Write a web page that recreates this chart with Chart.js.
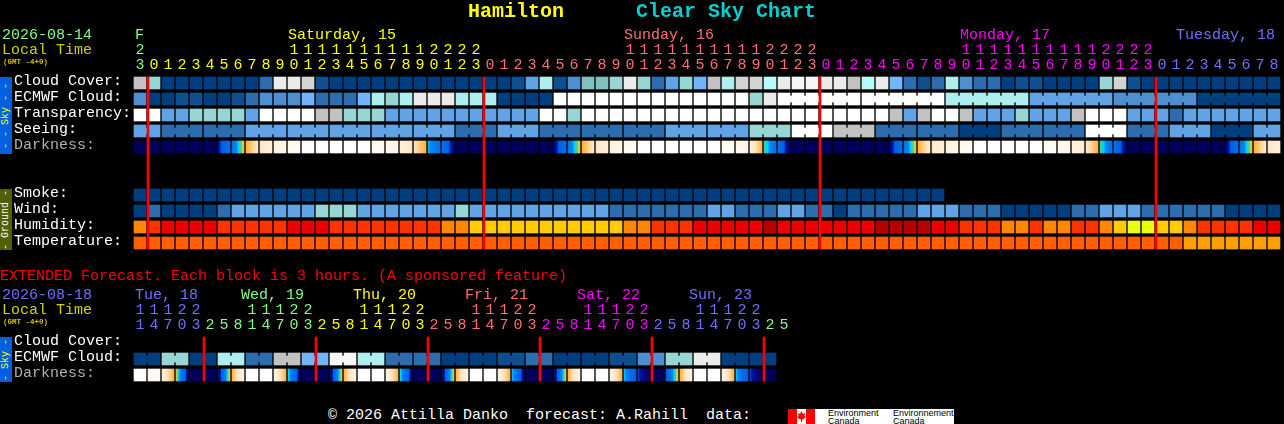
<!DOCTYPE html>
<html>
<head>
<meta charset="utf-8">
<title>Hamilton Clear Sky Chart</title>
<script src="https://cdn.jsdelivr.net/npm/chart.js@4"></script>
<style>
  html, body { margin: 0; background: #000; width: 1284px; height: 424px; overflow: hidden; }
  canvas { position: absolute; left: 0; }
  #main { top: 0; }
  #extended { top: 262px; }
  .t { position: absolute; font: 15px/15px "Liberation Mono", monospace; white-space: pre; }
  .title { font: bold 20px/22px "Liberation Mono", monospace; letter-spacing: 0; }
  .gmt { font: bold 7.5px/8px "Liberation Mono", monospace; color: #d0c000; }
  .side { position: absolute; left: 0; width: 12px; writing-mode: vertical-rl; transform: rotate(180deg);
          text-align: center; font: 10px/12px "Liberation Mono", monospace; white-space: pre; }
  #logo { position: absolute; left: 788px; top: 409px; width: 166px; height: 15px; background: #fff; overflow: hidden; }
  #logo .txt { position: absolute; top: 0; font: 9px/8px "Liberation Sans", sans-serif; color: #000; white-space: pre; }
</style>
</head>
<body>
<canvas id="main" width="1284" height="259"></canvas>
<canvas id="extended" width="1284" height="129"></canvas>

<div class="t title" style="left:468px;top:1px;color:#ffff00">Hamilton</div>
<div class="t title" style="left:636px;top:1px;color:#00d0d0">Clear Sky Chart</div>

<div class="t" style="left:2px;top:28px;color:#80ff80">2026-08-14</div>
<div class="t" style="left:2px;top:43px;color:#d0d000">Local Time</div>
<div class="t gmt" style="left:3px;top:58px">(GMT -4+0)</div>
<div class="t" style="left:135px;top:28px;color:#80ff80">F</div>
<div class="t" style="left:288px;top:28px;color:#ffff00">Saturday, 15</div>
<div class="t" style="left:624px;top:28px;color:#ff7070">Sunday, 16</div>
<div class="t" style="left:960px;top:28px;color:#ff00ff">Monday, 17</div>
<div class="t" style="left:1176px;top:28px;color:#7070ff">Tuesday, 18</div>

<div class="side" style="top:77px;height:77px;background:#0060e0;color:#ffff00">- - Sky - -</div>
<div class="side" style="top:189px;height:61px;background:#506000;color:#ffffff">- Ground -</div>
<div class="side" style="top:337px;height:45px;background:#0060e0;color:#ffff00">- Sky -</div>

<div class="t" style="left:0;top:269px;color:#ff0000">EXTENDED Forecast. Each block is 3 hours. (A sponsored feature)</div>
<div class="t" style="left:2px;top:288px;color:#7070ff">2026-08-18</div>
<div class="t" style="left:2px;top:303px;color:#d0d000">Local Time</div>
<div class="t gmt" style="left:3px;top:318px">(GMT -4+0)</div>
<div class="t" style="left:135px;top:288px;color:#7070ff">Tue, 18</div>
<div class="t" style="left:241px;top:288px;color:#80ff80">Wed, 19</div>
<div class="t" style="left:353px;top:288px;color:#ffff00">Thu, 20</div>
<div class="t" style="left:465px;top:288px;color:#ff7070">Fri, 21</div>
<div class="t" style="left:577px;top:288px;color:#ff00ff">Sat, 22</div>
<div class="t" style="left:689px;top:288px;color:#7070ff">Sun, 23</div>

<div class="t" style="left:328px;top:408px;color:#ffffff">© 2026 Attilla Danko  forecast: A.Rahill  data:</div>
<div id="logo">
  <svg width="27" height="15" style="position:absolute;left:0;top:0">
    <rect width="27" height="15" fill="#fff"></rect>
    <rect width="9" height="15" fill="#ff0000"></rect>
    <rect x="18" width="9" height="15" fill="#ff0000"></rect>
    <polygon fill="#ff0000" points="13.5,2 15,5 17,4 16.5,7 18,8 15,10.5 14,10.5 14,13 13,13 13,10.5 12,10.5 9,8 10.5,7 10,4 12,5"></polygon>
  </svg>
  <div class="txt" style="left:40px">Environment
Canada</div>
  <div class="txt" style="left:105px">Environnement
Canada</div>
</div>

<script>
// --- hourly section, one value per column ---
const hours = [23,
  0,1,2,3,4,5,6,7,8,9,10,11,12,13,14,15,16,17,18,19,20,21,22,23,
  0,1,2,3,4,5,6,7,8,9,10,11,12,13,14,15,16,17,18,19,20,21,22,23,
  0,1,2,3,4,5,6,7,8,9,10,11,12,13,14,15,16,17,18,19,20,21,22,23,
  0,1,2,3,4,5,6,7,8];
const dayStartCols = [0, 1, 25, 49, 73];
const dayColors = ['#80ff80', '#ffff00', '#ff7070', '#ff00ff', '#7070ff'];
const midnightCols = [0, 24, 48, 72];

const rowLabels = ['Cloud Cover:', 'ECMWF Cloud:', 'Transparency:', 'Seeing:', 'Darkness:', '', '',
  'Smoke:', 'Wind:', 'Humidity:', 'Temperature:'];

const cloudCover = [80,65,0,0,0,0,0,0,0,20, 90,90,85,10,0,0,0,0,0,0,
  0,0,0,0,0,0,0,10,40,70, 10,30,60,60,65,90,65,20,40,65,
  50,80,70,85,85,75,90,95,95,90, 90,80,75,90,50,20,10,20,70,30,
  20,20,0,10,10,0,0,0,0,65, 85,10,0,0,0,0,0,0,0,0, 0,0];
const ecmwfCloud = [30,0,0,10,10,0,0,10,20,30, 30,30,50,20,20,20,50,70,65,70,
  90,90,90,70,70,70,0,0,0,0, 100,100,100,100,100,100,100,100,100,100,
  100,100,100,100,65,90,100,100,100,100, 100,100,100,100,100,100,100,100,70,70,
  70,70,70,70,40,40,40,40,40,40, 30,30,30,30,30,30,0,0,0,0, 0,0];
const ecmwfBlockStarts = [46, 52, 58, 64, 70, 76];
const transparency = [100,100,40,40,65,65,65,65,40,100, 100,100,100,80,80,65,65,65,40,40,
  40,40,40,40,40,40,40,40,40,100, 100,65,100,100,100,100,100,100,100,100,
  100,100,100,100,100,100,100,100,100,100, 100,100,100,100,80,40,80,100,100,80,
  40,40,40,65,40,40,40,80,100,100, 100,40,40,40,20,40,40,40,40,40, 40,40];
const seeing = [40,40,20,20,20,20,20,20,40,40, 40,40,40,40,40,40,40,40,40,40,
  40,40,40,20,20,20,40,40,40,20, 20,20,20,20,20,20,20,20,40,40,
  40,40,40,40,65,65,65,100,100,100, 80,80,80,20,20,20,20,20,20,0,
  0,0,20,20,20,20,20,20,100,100, 100,20,20,20,40,40,40,0,0,0, 40,40];
const seeingBlockStarts = [0,2,5,8,11,14,17,20,23,26,29,32,35,38,41,44,47,50,53,56,59,62,65,68,71,74,77,80];
const darknessStart = [7,7,7,7,7,7,6.3,5,3.1,1.8, 1.2,.6,0,0,0,0,0,.3,.7,1.2,
  2,4.1,5,7,7,7,7,7,7,7, 6.5,5,3.1,1.8,1.2,.6,0,0,0,0,
  0,0,.2,.6,1.2,3.6,5,7,7,7, 7,7,7,7,6.5,5,3.1,1.6,1.2,.6,
  0,0,0,0,0,.2,.6,1,1.8,3.6, 5,7,7,7,7,7,7,7,6.5,5, 3.1,1.8];
const darknessEnd = [7,7,7,7,7,7,5,3.1,1.8,1.2, .8,.3,0,0,0,0,0,.5,1,1.8,
  3,5,6.6,7,7,7,7,7,7,7, 5,3.1,1.8,1.2,.8,.3,0,0,0,0,
  0,0,.4,.9,3,5,6.8,7,7,7, 7,7,7,7,5,3.1,1.6,1.2,.8,.3,
  0,0,0,0,0,.4,.9,1.5,3,5, 6.6,7,7,7,7,7,7,7,5,3.1, 1.8,1.2];
const smoke = [0,0,0,0,0,0,0,0,0,0, 0,0,0,0,0,0,0,0,0,0, 0,0,0,0,0,0,0,0,0,0,
  0,0,0,0,0,0,0,0,0,0, 0,0,0,0,0,0,0,0,0,0, 0,0,0,0,0,0,0,0];
const wind = [0,20,0,0,0,0,20,40,40,40, 40,40,40,65,65,65,40,40,40,40,
  40,40,40,65,40,40,40,40,40,40, 40,40,40,40,20,20,20,20,20,20,
  20,40,40,20,20,20,40,40,20,20, 0,20,20,20,20,20,40,40,40,20,
  20,20,0,0,0,0,0,20,20,40, 40,40,20,20,20,20,20,20,0,0, 0,0];
const humidity = [70,80,85,85,85,85,80,80,80,80, 80,85,85,85,80,80,80,80,80,80,
  80,80,70,70,60,60,60,60,60,60, 60,60,60,60,60,70,70,80,80,80,
  85,85,85,85,85,95,85,85,85,85, 85,85,85,95,95,95,95,85,85,80,
  80,80,70,70,80,70,70,80,80,70, 60,50,50,60,60,70,80,80,80,80, 85,85];
const temperature = [22,22,22,22,22,22,22,22,22,22, 22,22,22,22,22,22,22,22,22,22,
  22,22,22,22,22,22,22,22,22,22, 22,22,22,22,22,22,22,22,22,22,
  22,22,22,22,22,22,22,22,22,22, 22,22,22,22,22,22,22,22,22,22,
  22,22,22,22,22,22,22,22,22,22, 22,22,22,22,22,18,18,18,18,18, 18,18];

// --- extended section, 3 hours per column ---
const extHours = [11,14,17,20,23, 2,5,8,11,14,17,20,23, 2,5,8,11,14,17,20,23,
  2,5,8,11,14,17,20,23, 2,5,8,11,14,17,20,23, 2,5,8,11,14,17,20,23, 2,5];
const extDayStartCols = [0, 5, 13, 21, 29, 37, 45];
const extDayColors = ['#7070ff', '#80ff80', '#ffff00', '#ff7070', '#ff00ff', '#7070ff', '#80ff80'];
const extMidnightCols = [4, 12, 20, 28, 36, 44];
const extRowLabels = ['Cloud Cover:', 'ECMWF Cloud:', 'Darkness:'];
const extEcmwfCloud = [0,0,65,65,0,0,70,70,20,20,80,80,50,50,95,95,70,70,20,20,20,20,
  0,0,0,0,10,10,20,20,0,0,0,0,10,10,30,30,65,65,90,90,0,0,0,0];
const extBlockStarts = [0,2,4,6,8,10,12,14,16,18,20,22,24,26,28,30,32,34,36,38,40,42,44];
const extDarknessStart = [0,.2,1.2,3.2,7,7,7,3,0,0, 1,3.8,7,7,7,3,0,0,1,3.8,
  7,7,7,3,0,0,1,4,7,7, 7,3,0,0,1,4,6,7,6,3, 0,0,1,4,6,7];
const extDarknessEnd = [0,.5,3,6.6,7,7,3,.8,0,0, 3,6.6,7,7,3,.8,0,0,3,6.6,
  7,7,3,.8,0,0,3,6.6,7,7, 3,.8,0,0,3,6,7,7,3,.8, 0,0,3,6,7,7];

// --- colour keys ---
const skyColors = { 0: '#003f7f', 10: '#0f4f8f', 20: '#2d6cad', 30: '#4f8fd0', 40: '#62a3e6', 50: '#74b4fa',
  60: '#80c0c0', 65: '#97d6d4', 70: '#aeeeee', 75: '#b8fafa', 80: '#c2c2c2', 85: '#d4d4d4', 90: '#ebebeb',
  95: '#f6f6f6', 100: '#ffffff' };
const humidityColors = { 50: '#e8ff10', 60: '#ffcc00', 70: '#ff8800', 80: '#ff3300', 85: '#ee0000', 95: '#b80000' };
const temperatureColors = { 22: '#ff5f00', 18: '#ffa000' };
const darknessStops = [[0, '#ffffff'], [1, '#fff3e4'], [2, '#ffe4c0'], [3, '#ffb040'], [3.3, '#e8c840'],
  [3.6, '#40d0a0'], [4, '#00d0ff'], [4.3, '#0088f4'], [5, '#0070f0'], [5.9, '#0060e0'], [6.2, '#0010a0'], [7, '#00005c']];

const font = { family: '"Liberation Mono", monospace', size: 15, lineHeight: 1 };
const halfCell = 0.375;
const halfBridge = 0.1875;

function cellRow(values, row, colors, label) {
  return {
    label: label,
    data: values.map((v, i) => ({ x: i, y: [row - halfCell, row + halfCell] })),
    backgroundColor: values.map(v => colors[v]),
    barThickness: 12
  };
}

// thin joins between the columns that belong to one forecast block
function bridgeRow(values, row, colors, blockStarts) {
  const cols = [];
  blockStarts.forEach((start, b) => {
    const end = b + 1 < blockStarts.length ? blockStarts[b + 1] : values.length;
    for (let c = start; c < end - 1; c++) cols.push(c);
  });
  return {
    data: cols.map(c => ({ x: c + 0.5, y: [row - halfBridge, row + halfBridge] })),
    backgroundColor: cols.map(c => colors[values[c]]),
    barThickness: 2
  };
}

function darknessRow(starts, ends, row) {
  return {
    label: 'Darkness',
    data: starts.map((v, i) => ({ x: i, y: [row - halfCell, row + halfCell] })),
    barThickness: 12,
    backgroundColor: ctx => {
      const px = ctx.chart.scales.x ? ctx.chart.scales.x.getPixelForValue(ctx.dataIndex) : NaN;
      if (!Number.isFinite(px)) return '#00005c';
      const a = starts[ctx.dataIndex], b = ends[ctx.dataIndex];
      const g = ctx.chart.ctx.createLinearGradient(px - 6, 0, px + 6, 0);
      g.addColorStop(0, shade(a));
      darknessStops.forEach(s => {
        if (s[0] > Math.min(a, b) && s[0] < Math.max(a, b)) g.addColorStop((s[0] - a) / (b - a), s[1]);
      });
      g.addColorStop(1, shade(b));
      return g;
    }
  };
}

function shade(d) {
  for (let i = 0; i < darknessStops.length - 1; i++) {
    const lo = darknessStops[i], hi = darknessStops[i + 1];
    if (d <= hi[0]) {
      const t = (d - lo[0]) / (hi[0] - lo[0]);
      const p = s => [1, 3, 5].map(k => parseInt(s.substr(k, 2), 16));
      const ca = p(lo[1]), cb = p(hi[1]);
      return 'rgb(' + ca.map((v, k) => Math.round(v + (cb[k] - v) * t)).join(',') + ')';
    }
  }
  return '#00005c';
}

function redLines(cols, lastRow) {
  return {
    order: -1,
    data: cols.map(c => ({ x: c + 0.57, y: [-halfCell, lastRow + halfCell] })),
    backgroundColor: '#ff0000',
    barThickness: 2
  };
}

function colorForCol(col, starts, colors) {
  let color = colors[0];
  starts.forEach((s, i) => { if (col >= s) color = colors[i]; });
  return color;
}

function makeChart(id, datasets, hourList, labels, starts, colors, headHeight, bottomGap) {
  return new Chart(document.getElementById(id), {
    type: 'bar',
    data: { datasets: datasets },
    options: {
      responsive: false,
      animation: false,
      devicePixelRatio: 1,
      grouped: false,
      layout: { padding: { left: 14, right: 3, top: 0, bottom: bottomGap } },
      plugins: { legend: { display: false }, title: { display: false }, tooltip: { enabled: false } },
      scales: {
        x: {
          type: 'linear',
          position: 'top',
          offset: false,
          min: -0.5,
          max: 81.5,
          grid: { display: false, drawTicks: false },
          border: { display: false },
          afterBuildTicks: s => { s.ticks = hourList.map((h, i) => ({ value: i })); },
          afterFit: s => { s.height = headHeight; },
          ticks: {
            autoSkip: false,
            maxRotation: 0,
            minRotation: 0,
            padding: 2,
            font: font,
            color: c => colorForCol(c.tick.value, starts, colors),
            callback: v => {
              const h = hourList[v];
              return [h >= 10 ? String(Math.floor(h / 10)) : '', String(h % 10)];
            }
          }
        },
        y: {
          type: 'linear',
          reverse: true,
          min: -0.5,
          max: labels.length - 0.5,
          grid: { display: false, drawTicks: false },
          border: { display: false },
          // row names sit a little above the middle of their row
          afterBuildTicks: s => { s.ticks = labels.map((l, i) => ({ value: i - 0.1 })); },
          afterFit: s => { s.width = 119; },
          ticks: {
            autoSkip: false,
            padding: 0,
            crossAlign: 'far',
            font: font,
            color: c => labels[c.index] === 'Darkness:' ? '#b0b0b0' : '#ffffff',
            callback: (v, i) => labels[i]
          }
        }
      }
    }
  });
}

makeChart('main', [
  redLines(midnightCols, 10),
  cellRow(cloudCover, 0, skyColors, 'Cloud Cover'),
  cellRow(ecmwfCloud, 1, skyColors, 'ECMWF Cloud'),
  bridgeRow(ecmwfCloud, 1, skyColors, ecmwfBlockStarts),
  cellRow(transparency, 2, skyColors, 'Transparency'),
  cellRow(seeing, 3, skyColors, 'Seeing'),
  bridgeRow(seeing, 3, skyColors, seeingBlockStarts),
  darknessRow(darknessStart, darknessEnd, 4),
  cellRow(smoke, 7, skyColors, 'Smoke'),
  cellRow(wind, 8, skyColors, 'Wind'),
  cellRow(humidity, 9, humidityColors, 'Humidity'),
  cellRow(temperature, 10, temperatureColors, 'Temperature')
], hours, rowLabels, dayStartCols, dayColors, 75, 8);

makeChart('extended', [
  redLines(extMidnightCols, 2),
  cellRow(extEcmwfCloud, 1, skyColors, 'ECMWF Cloud'),
  bridgeRow(extEcmwfCloud, 1, skyColors, extBlockStarts),
  darknessRow(extDarknessStart, extDarknessEnd, 2)
], extHours, extRowLabels, extDayStartCols, extDayColors, 73, 8);
</script>
</body>
</html>
